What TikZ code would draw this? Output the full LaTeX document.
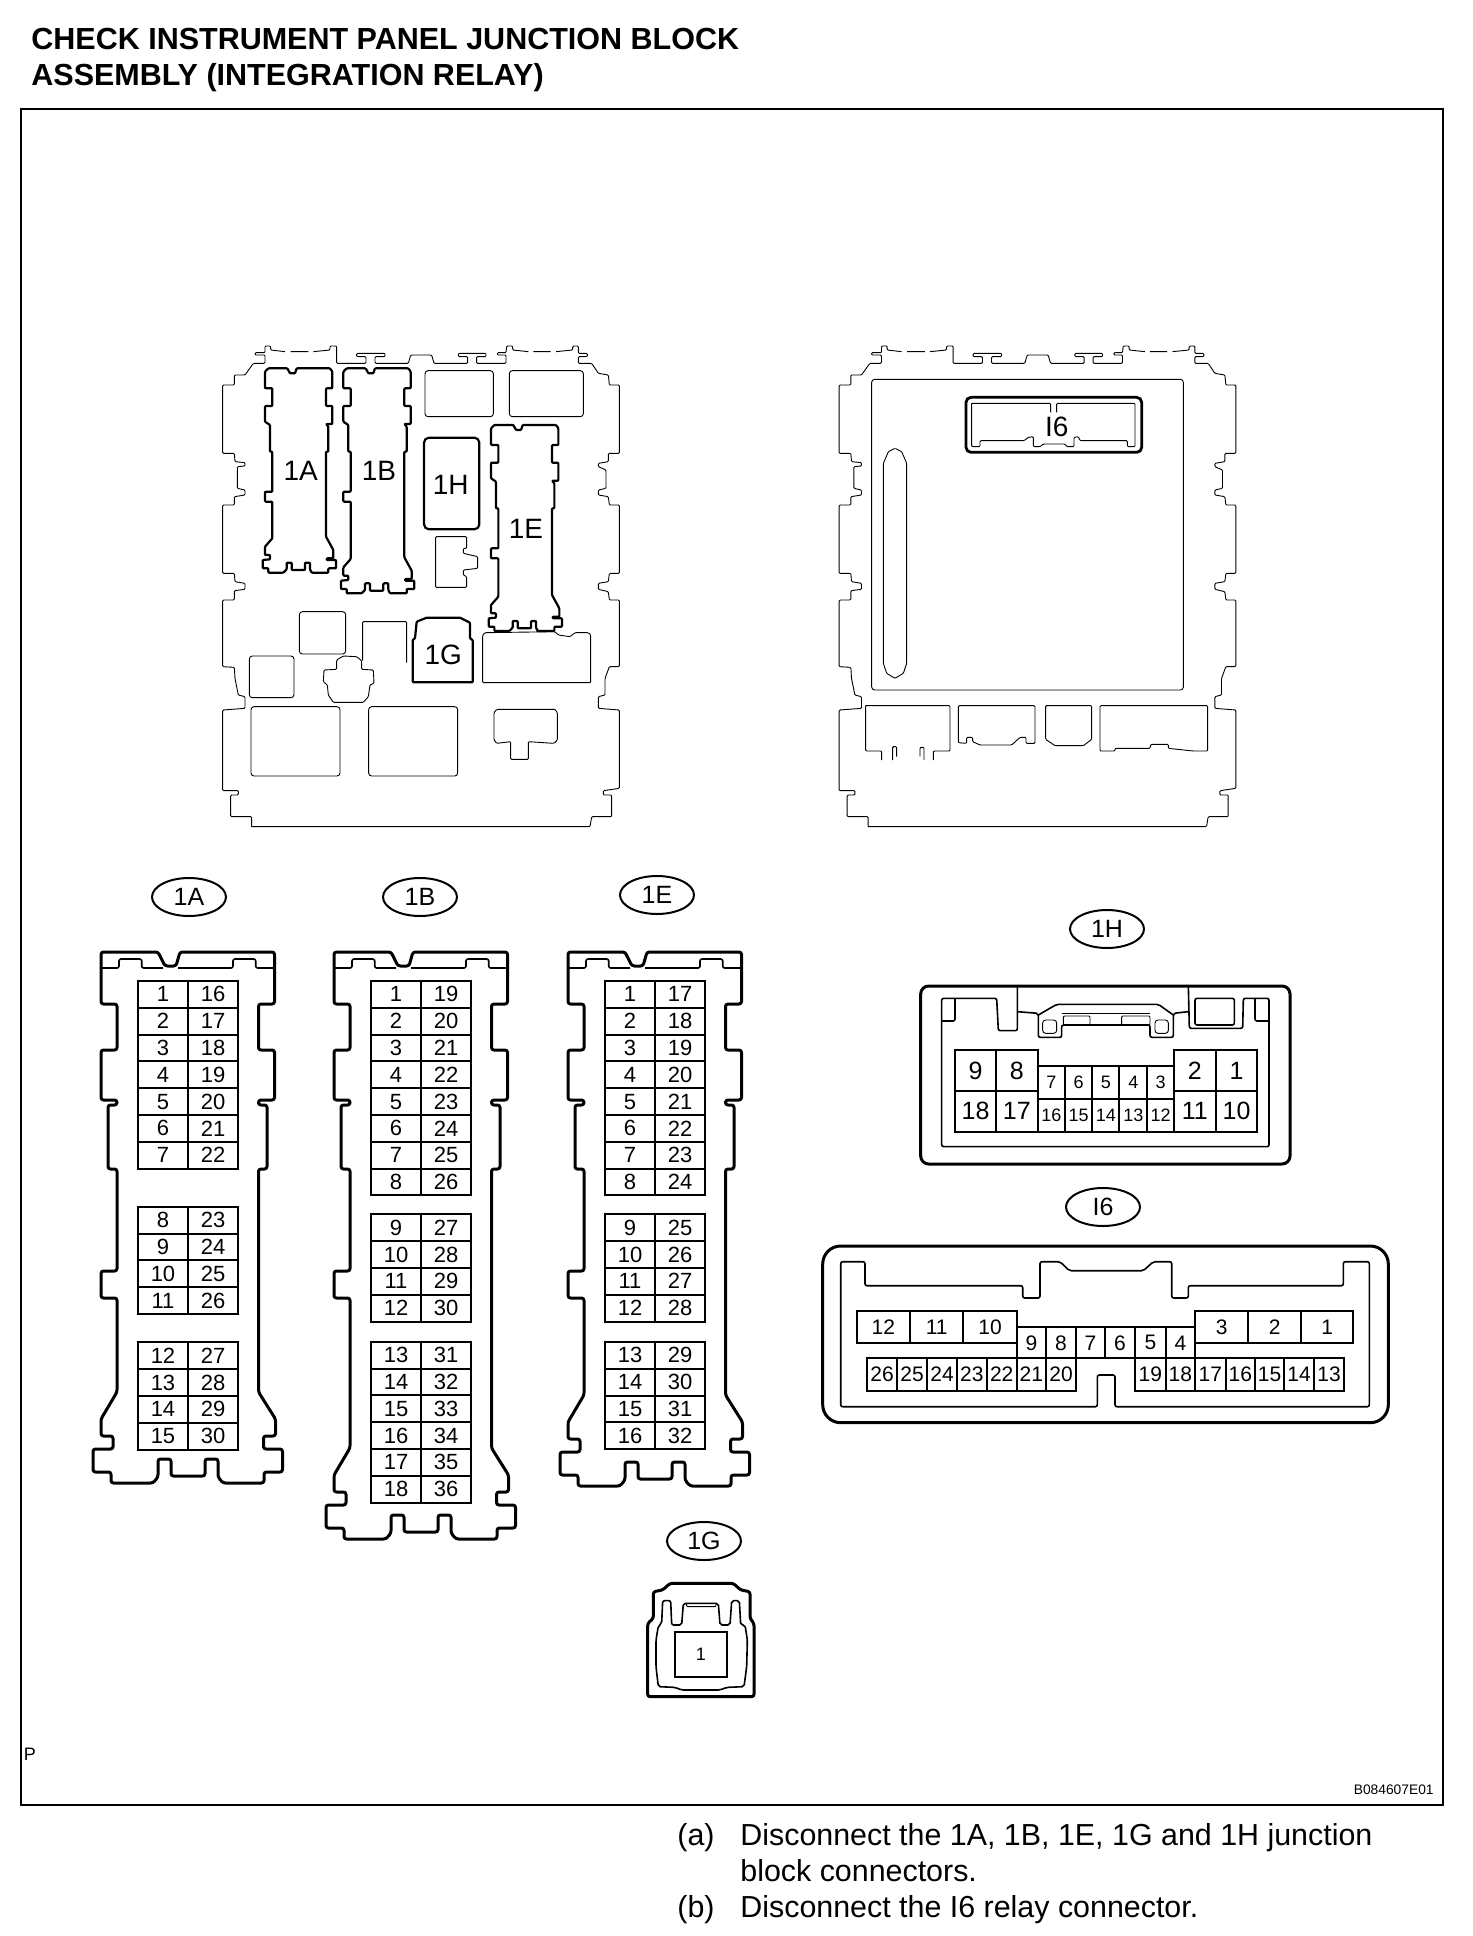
\documentclass[tikz,border=0pt]{standalone}
\usepackage{fontspec}
\setmainfont{Liberation Sans}
\usetikzlibrary{calc,shapes.geometric}

\tikzset{
	conn/.style={line width=1.5pt, rounded corners=1.2pt, line join=round},
	miniconn/.style={line width=1.1pt, rounded corners=0.4pt, line join=round},
	thinline/.style={line width=0.45pt, rounded corners=0.5pt},
	roundbox/.style={line width=0.45pt, rounded corners=1.5pt},
	midline/.style={line width=0.8pt, rounded corners=1pt},
	pinline/.style={line width=1pt},
	bigtag/.style={font=\fontsize{14}{16}\selectfont, inner sep=0pt},
	tag/.style={draw, ellipse, line width=1pt, minimum width=37pt, minimum height=19pt, inner sep=0pt, font=\fontsize{12.5}{14}\selectfont},
	pintext/.style={font=\fontsize{11}{13}\selectfont, inner sep=0pt},
	smalltext/.style={font=\fontsize{9}{11}\selectfont, inner sep=0pt},
	midtext/.style={font=\fontsize{10.5}{12}\selectfont, inner sep=0pt},
	bigtext/.style={font=\fontsize{12.5}{14}\selectfont, inner sep=0pt},
	titletext/.style={font=\fontsize{15.25}{17}\selectfont\bfseries, anchor=base west, inner sep=0pt},
	steptext/.style={font=\fontsize{15.2}{17}\selectfont, anchor=base west, inner sep=0pt},
	overview/.style={x=0.16667pt, y=-0.16667pt}
}

% one cell of a connector: name, style, corners, number
\def\pincell#1#2(#3,#4)(#5,#6)#7{\draw[pinline] (#3,#4) rectangle (#5,#6);
	\node[#2] (#1-#7) at ({(#3+#5)/2},{(#4+#6)/2}) {#7};}

% two columns of cells: name, left edge, top edge, list
\def\pinrows#1#2#3#4{\foreach \l/\r [count=\i] in {#4} {
		\pgfmathsetmacro\ya{#3+(\i-1)*26.8}
		\pgfmathsetmacro\yb{#3+\i*26.8}
		\pincell{#1}{pintext}(#2,\ya)(#2+50,\yb){\l}
		\pincell{#1}{pintext}(#2+50,\ya)(#2+100,\yb){\r}
}}

% long connector body, x offset and y where the foot starts
\def\bigconn#1#2{\begin{scope}[shift={(#1,0)}]
		\draw[conn] (101,980) -- (101,1004) -- (117,1004) -- (117,1050) -- (101,1050) -- (101,1100) -- (117,1100) -- (117,1105) -- (108,1105) -- (108,1169) -- (117,1169) -- (117,1271) -- (101,1271) -- (101,1298) -- (117,1298) -- (117,#2) -- (101,#2+27) -- (101,#2+44) -- (113,#2+44) -- (113,#2+57) -- (93,#2+57) -- (93,#2+80) -- (111,#2+80) -- (111,#2+91) -- (153,#2+91) -- (158,#2+85) -- (158,#2+67) -- (171,#2+67) -- (171,#2+84) -- (205,#2+84) -- (205,#2+67) -- (218,#2+67) -- (218,#2+85) -- (223,#2+91) -- (264,#2+91) -- (264,#2+80) -- (282.5,#2+80) -- (282.5,#2+57) -- (263.5,#2+57) -- (263.5,#2+44) -- (275.5,#2+44) -- (275.5,#2+27) -- (258.5,#2) -- (258.5,1169) -- (267,1169) -- (267,1105) -- (258.5,1105) -- (258.5,1100) -- (274.5,1100) -- (274.5,1050) -- (258.5,1050) -- (258.5,1004) -- (274.5,1004) -- (274.5,952) -- (180,952) -- (176,966) -- (165,966) -- (158,952) -- (101,952) -- cycle;
		\draw[midline] (102,968) -- (119,968) -- (119,959) -- (141.7,959) -- (141.7,968) -- (163,968);
		\draw[midline] (178,968) -- (233,968) -- (233,959) -- (255.7,959) -- (255.7,968) -- (273,968);
\end{scope}}

% the same body on the block drawing: offsets and foot
\def\smallconn#1#2#3{\begin{scope}[shift={(#1,#2)}]
		\draw[miniconn] (195,155) -- (205,145) -- (262,145) -- (270,160) -- (285,160) -- (290,145) -- (390,145) -- (397,155) -- (397,205) -- (378,205) -- (378,258) -- (397,258) -- (397,312) -- (378,312) -- (385,320) -- (385,395) -- (378,395) -- (378,#3) -- (400,#3+40) -- (400,#3+65) -- (380,#3+65) -- (380,#3+70) -- (408,#3+70) -- (408,#3+95) -- (385,#3+95) -- (385,#3+108) -- (335,#3+108) -- (330,#3+98) -- (330,#3+78) -- (315,#3+78) -- (315,#3+100) -- (275,#3+100) -- (275,#3+78) -- (260,#3+78) -- (260,#3+98) -- (250,#3+108) -- (205,#3+108) -- (205,#3+95) -- (188,#3+95) -- (188,#3+70) -- (210,#3+68) -- (210,#3+55) -- (195,#3+55) -- (195,#3+30) -- (217,#3+5) -- (217,545) -- (195,545) -- (195,515) -- (217,515) -- (217,395) -- (210,395) -- (210,315) -- (195,305) -- (195,258) -- (217,258) -- (217,205) -- (195,205) -- cycle;
\end{scope}}

% outside of the block, seen from either side
\def\blockframe{\draw[thinline] (155,1520) -- (1170,1520) -- (1175,1490) -- (1235,1490) -- (1235,1425) -- (1210,1425) -- (1210,1412) -- (1258,1405) -- (1258,1170) -- (1195,1165) -- (1195,1130) -- (1215,1125) -- (1215,1075) -- (1228,1040) -- (1258,1040) -- (1258,840) -- (1228,840) -- (1225,815) -- (1195,808) -- (1195,790) -- (1225,785) -- (1228,760) -- (1258,760) -- (1258,555) -- (1228,555) -- (1225,530) -- (1195,525) -- (1195,510) -- (1218,505) -- (1218,450) -- (1195,440) -- (1195,430) -- (1225,425) -- (1225,400) -- (1258,400) -- (1258,195) -- (1228,195) -- (1225,165) -- (1195,160) -- (1175,130) -- (1135,130) -- (1135,110) -- (1162,110) -- (1162,100) -- (1135,100) -- (1135,78) -- (1118,78) -- (1118,90) -- (1068,95) (1052,95) -- (1000,95) (985,95) -- (938,90) -- (938,78) -- (920,78) -- (918,98) -- (892,98) -- (892,105) -- (918,105) -- (918,130) -- (830,130) -- (830,110) -- (858,110) -- (858,100) -- (775,100) -- (775,110) -- (803,110) -- (803,130) -- (702,130) -- (695,105) -- (632,105) -- (625,130) -- (525,130) -- (525,110) -- (555,110) -- (555,100) -- (470,100) -- (470,110) -- (498,110) -- (498,130) -- (410,130) -- (410,78) -- (390,78) -- (390,90) -- (340,95) (325,95) -- (272,95) (255,95) -- (212,90) -- (212,78) -- (195,78) -- (195,98) -- (165,98) -- (165,105) -- (195,105) -- (195,130) -- (160,130) -- (135,165) -- (103,165) -- (103,195) -- (68,195) -- (68,400) -- (103,400) -- (105,425) -- (135,428) -- (135,438) -- (112,440) -- (112,505) -- (135,510) -- (135,525) -- (103,530) -- (103,555) -- (68,555) -- (68,760) -- (103,760) -- (105,785) -- (135,790) -- (135,808) -- (103,812) -- (103,840) -- (68,840) -- (68,1040) -- (103,1042) -- (105,1075) -- (115,1125) -- (135,1130) -- (135,1165) -- (68,1170) -- (68,1412) -- (115,1412) -- (115,1425) -- (92,1425) -- (92,1490) -- (155,1490) -- (155,1520);}

\begin{document}
\begin{tikzpicture}[x=0.5pt, y=-0.5pt]
	\useasboundingbox (0,0) rectangle (1472,1936);
	%%%%% HEADING %%%%%
	\node[titletext] (title1) at (31,50) {CHECK INSTRUMENT PANEL JUNCTION BLOCK};
	\node[titletext] (title2) at (31,86) {ASSEMBLY (INTEGRATION RELAY)};
	\draw[line width=1pt] (21,109) rectangle (1443,1805);
	\node[font=\fontsize{9}{11}\selectfont, inner sep=0pt] (cornerp) at (30,1754) {P};
	\node[font=\fontsize{6.9}{8}\selectfont, anchor=east, inner sep=0pt] (figcode) at (1434,1790) {B084607E01};
	
	%%%%% BLOCK, LEFT SIDE %%%%%
	\begin{scope}[shift={(200,320)}, overview]
		\blockframe
		\draw[roundbox] (675,152) rectangle (880,290);
		\draw[roundbox] (928,152) rectangle (1150,290);
		\draw[roundbox] (298,875) rectangle (437,1002);
		\draw[roundbox] (148,1008) rectangle (282,1133);
		\draw[roundbox] (153,1160) rectangle (420,1368);
		\draw[roundbox] (506,1160) rectangle (773,1368);
		\draw[thinline] (848,945) -- (855,938) -- (1065,935) -- (1075,945) -- (1110,950) -- (1125,938) -- (1165,938) -- (1172,945) -- (1172,1088) -- (848,1088) -- cycle;
		\draw[thinline] (707,650) -- (800,650) -- (800,685) -- (790,685) -- (790,700) -- (833,710) -- (833,745) -- (790,750) -- (790,765) -- (800,770) -- (800,802) -- (707,802) -- cycle;
		\draw[thinline] (488,1022) -- (488,905) -- (620,905) -- (620,1028);
		\draw[thinline] (410,1048) -- (410,1020) -- (430,1008) -- (470,1010) -- (485,1022) -- (485,1048) -- (520,1050) -- (522,1090) -- (510,1095) -- (505,1130) -- (490,1147) -- (400,1147) -- (385,1125) -- (382,1095) -- (370,1085) -- (372,1050) -- cycle;
		\draw[thinline] (882,1178) -- (890,1168) -- (1065,1168) -- (1072,1178) -- (1072,1260) -- (1062,1270) -- (985,1265) -- (985,1318) -- (932,1318) -- (932,1265) -- (890,1270) -- (882,1260) -- cycle;
		\smallconn{0}{0}{650}
		\smallconn{235}{0}{712}
		\smallconn{678}{170}{655}
		\draw[miniconn, rounded corners=2.5pt] (672,353) rectangle (838,628);
		\draw[miniconn] (650,905) -- (680,893) -- (780,893) -- (810,908) -- (810,955) -- (818,960) -- (818,1087) -- (638,1087) -- (638,960) -- (645,955) -- cycle;
		\node[bigtag] (over1A) at (302,452) {1A};
		\node[bigtag] (over1B) at (537,452) {1B};
		\node[bigtag] (over1H) at (752,495) {1H};
		\node[bigtag] (over1E) at (978,628) {1E};
		\node[bigtag] (over1G) at (730,1005) {1G};
	\end{scope}
	
	%%%%% BLOCK, RIGHT SIDE %%%%%
	\begin{scope}[shift={(816.5,320)}, overview]
		\blockframe
	\end{scope}
	\begin{scope}[shift={(820,320)}, overview]
		\draw[roundbox] (155,178) rectangle (1090,1110);
		\draw[miniconn, rounded corners=2.5pt, line width=1.4pt] (438,232) rectangle (965,397);
		\draw[thinline] (455,250) -- (692,250) -- (692,277) (710,277) -- (710,250) -- (945,250) -- (945,380) -- (922,380) -- (922,362) -- (780,362) -- (775,350) -- (762,352) -- (762,380) -- (740,380) -- (735,372) -- (670,372) -- (660,380) -- (640,380) -- (640,350) -- (625,352) -- (612,362) -- (480,362) -- (480,380) -- (455,380) -- (455,250);
		\draw[thinline] (190,430) -- (205,395) -- (225,385) -- (245,395) -- (260,430) -- (260,1030) -- (250,1060) -- (225,1075) -- (200,1060) -- (190,1030) -- cycle;
		\draw[thinline] (137,1157) -- (390,1157) -- (390,1293) -- (340,1293) -- (340,1320) (312,1320) -- (312,1282) -- (300,1282) -- (300,1310) (230,1310) -- (230,1280) -- (218,1280) -- (218,1320) (185,1320) -- (185,1293) -- (137,1293) -- (137,1157);
		\draw[thinline] (415,1157) -- (645,1157) -- (645,1270) -- (618,1270) -- (618,1252) -- (600,1252) -- (575,1275) -- (480,1275) -- (458,1265) -- (458,1252) -- (440,1252) -- (440,1270) -- (415,1268) -- cycle;
		\draw[thinline] (677,1157) -- (815,1157) -- (815,1258) -- (790,1277) -- (705,1277) -- (677,1258) -- cycle;
		\draw[thinline] (840,1157) -- (1163,1157) -- (1163,1293) -- (1120,1293) -- (1045,1285) -- (1045,1273) -- (992,1273) -- (990,1285) -- (885,1285) -- (885,1293) -- (840,1293) -- cycle;
		\node[bigtag] (overI6) at (710,322) {I6};
	\end{scope}
	
	%%%%% 1A, 1B, 1E %%%%%
	\node[tag] (tag1A) at (189,897) {1A};
	\node[tag] (tag1B) at (420,897) {1B};
	\node[tag] (tag1E) at (657,895) {1E};
	\bigconn{0}{1392}
	\bigconn{233}{1448}
	\bigconn{467}{1395}
	\pinrows{1A}{138}{981}{1/16,2/17,3/18,4/19,5/20,6/21,7/22}
	\pinrows{1A}{138}{1206.7}{8/23,9/24,10/25,11/26}
	\pinrows{1A}{138}{1342.3}{12/27,13/28,14/29,15/30}
	\pinrows{1B}{371}{981}{1/19,2/20,3/21,4/22,5/23,6/24,7/25,8/26}
	\pinrows{1B}{371}{1214.3}{9/27,10/28,11/29,12/30}
	\pinrows{1B}{371}{1341.7}{13/31,14/32,15/33,16/34,17/35,18/36}
	\pinrows{1E}{605}{981}{1/17,2/18,3/19,4/20,5/21,6/22,7/23,8/24}
	\pinrows{1E}{605}{1214.3}{9/25,10/26,11/27,12/28}
	\pinrows{1E}{605}{1342}{13/29,14/30,15/31,16/32}
	
	%%%%% 1H %%%%%
	\node[tag] (tag1H) at (1107,929) {1H};
	\begin{scope}[shift={(900,910)}, overview]
		\draw[conn, rounded corners=4pt] (62,228) rectangle (1170,762);
		\draw[midline] (125,333) -- (125,710) -- (1107,710) -- (1107,265) -- (1030,265) -- (1028,355) -- (868,355) -- (865,230);
		\draw[midline] (125,333) -- (125,265) -- (290,265) -- (295,362) -- (352,362) -- (352,230);
		\draw[midline] (125,333) -- (165,333) -- (165,265);
		\draw[midline] (1065,265) -- (1065,333) -- (1107,333);
		\draw[midline] (352,305) -- (415,310) -- (415,382) -- (485,382) -- (485,345) -- (750,345) -- (750,382) -- (820,382) -- (820,310) -- (865,305);
		\draw[midline] (415,315) -- (470,283) -- (775,283) -- (820,315);
		\draw[midline] (485,310) -- (750,310);
		\draw[thinline] (490,318) rectangle (570,345);
		\draw[thinline] (665,318) rectangle (750,345);
		\draw[roundbox] (428,330) rectangle (470,370);
		\draw[roundbox] (765,330) rectangle (805,370);
		\draw[midline] (885,265) rectangle (1003,345);
		\foreach \xa/\xb/\ya/\yb/\n in {165/288/420/543/9, 288/413/420/543/8, 822/947/420/543/2, 947/1072/420/543/1, 165/288/543/665/18, 288/413/543/665/17, 822/947/543/665/11, 947/1072/543/665/10} {
			\pincell{1H}{bigtext}(\xa,\ya)(\xb,\yb){\n}
		}
		\foreach \xa/\xb/\ya/\yb/\n in {413/495/467/568/7, 495/577/467/568/6, 577/658/467/568/5, 658/742/467/568/4, 742/822/467/568/3, 413/495/568/665/16, 495/577/568/665/15, 577/658/568/665/14, 658/742/568/665/13, 742/822/568/665/12} {
			\pincell{1H}{smalltext}(\xa,\ya)(\xb,\yb){\n}
		}
	\end{scope}
	
	%%%%% I6 %%%%%
	\node[tag] (tagI6) at (1103,1207) {I6};
	\draw[conn, rounded corners=9pt] (822.7,1246) rectangle (1388.3,1422.7);
	\draw[midline] (840.7,1261.7) -- (865,1261.7) -- (865,1285.7) -- (1022.7,1285.7) -- (1022.7,1298) -- (1040,1298) -- (1040,1261.7) -- (1060,1261.7) -- (1069.3,1270.7) -- (1143.3,1270.7) -- (1153.3,1261.7) -- (1171.7,1261.7) -- (1171.7,1298) -- (1188.3,1298) -- (1188.3,1285.7) -- (1343.3,1285.7) -- (1343.3,1261.7) -- (1369.3,1261.7) -- (1369.3,1406.7) -- (1115,1406.7) -- (1115,1375) -- (1097.3,1375) -- (1097.3,1406.7) -- (840.7,1406.7) -- cycle;
	\foreach \xa/\xb/\n in {856.7/910/12, 910/963.3/11, 963.3/1016.7/10, 1195/1248.3/3, 1248.3/1301/2, 1301/1353.3/1} {
		\pincell{I6}{midtext}(\xa,1311)(\xb,1343.3){\n}
	}
	\foreach \xa/\xb/\n in {1016.7/1046/9, 1046/1076/8, 1076/1105/7, 1105/1135/6, 1135/1165.7/5, 1165.7/1195/4} {
		\pincell{I6}{midtext}(\xa,1327.3)(\xb,1358.3){\n}
	}
	\foreach \xa/\xb/\n in {867.3/897/26, 897/927/25, 927/957/24, 957/986.7/23, 986.7/1016.7/22, 1016.7/1046/21, 1046/1076/20, 1135/1165.7/19, 1165.7/1195/18, 1195/1225.7/17, 1225.7/1255/16, 1255/1284/15, 1284/1314.3/14, 1314.3/1344/13} {
		\pincell{I6}{midtext}(\xa,1358.3)(\xb,1391){\n}
	}
	
	%%%%% 1G %%%%%
	\node[tag] (tag1G) at (704,1541) {1G};
	\begin{scope}[shift={(550,1500)}, overview]
		\draw[conn] (310,300) -- (310,275) -- (338,270) -- (360,250) -- (550,250) -- (572,270) -- (600,275) -- (600,355) -- (612,370) -- (612,590) -- (293,590) -- (293,370) -- (310,355) -- cycle;
		\draw[midline] (335,370) -- (338,302) -- (362,302) -- (365,375) -- (395,375) -- (400,310) -- (505,310) -- (510,375) -- (540,375) -- (545,302) -- (568,302) -- (572,375) -- (585,375) -- (592,420) -- (590,500) -- (582,560) -- (530,562) -- (510,570) -- (395,570) -- (375,562) -- (325,560) -- (318,500) -- (318,420) -- (325,378) -- cycle;
		\draw[thinline] (410,310) -- (410,320) -- (498,320) -- (498,310);
		\pincell{1G}{smalltext}(375,395)(530,532){1}
	\end{scope}
	
	%%%%% STEPS %%%%%
	\node[steptext] (stepa) at (677,1845) {(a)};
	\node[steptext] (stepatext) at (740,1845) {Disconnect the 1A, 1B, 1E, 1G and 1H junction};
	\node[steptext] (stepatwo) at (740,1881.7) {block connectors.};
	\node[steptext] (stepb) at (677,1917) {(b)};
	\node[steptext] (stepbtext) at (740,1917) {Disconnect the I6 relay connector.};
\end{tikzpicture}
\end{document}
